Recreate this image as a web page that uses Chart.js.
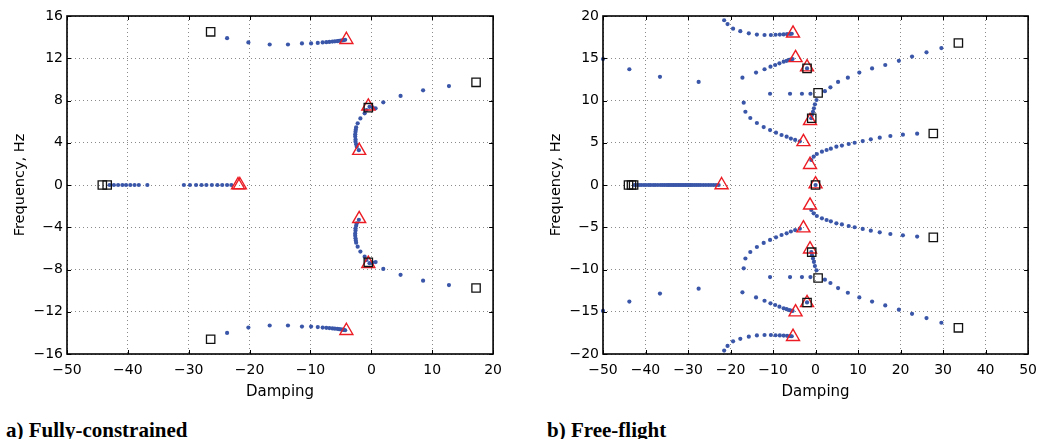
<!DOCTYPE html>
<html lang="en">
<head>
  <meta charset="UTF-8" />
  <title>Root locus - Damping vs Frequency</title>
  <script src="https://cdn.jsdelivr.net/npm/chart.js@4.4.0/dist/chart.umd.min.js"></script>
  <style>
    body { margin: 0; background: #fff; width: 1045px; height: 439px; position: relative; overflow: hidden; }
    canvas { position: absolute; top: 0; }
    .caption {
      position: absolute; top: 418px; line-height: 21px;
      font: bold 21px "Liberation Serif", "Times New Roman", serif; color: #000;
    }
  </style>
</head>
<body>

  <canvas id="chartA" width="510" height="410" style="left:0"></canvas>
  <canvas id="chartB" width="509" height="410" style="left:536px"></canvas>
  <div class="caption" style="left:6px">a) Fully-constrained</div>
  <div class="caption" style="left:547px">b) Free-flight</div>

  <script>
    // ---- a) Fully-constrained ----
    // branch points: top locus, then right-hand locus (upper half), lower half mirrors them
    const aBranchDamp = [
      -23.7, -20.2, -16.7, -13.7, -11.4, -9.9, -8.8, -8.0, -7.4, -6.9, -6.4, -6.0, -5.6, -5.3, -5.0, -4.7, -4.5, -4.3,
      12.75, 8.5, 4.8, 1.96, 0.7, 0.2, -0.3, -0.8, -1.1, -1.8, -2.25, -2.5, -2.55, -2.6, -2.65, -2.65, -2.6, -2.6, -2.5, -2.4, -2.05
    ];
    const aFreqUp = [
      13.9, 13.5, 13.3, 13.3, 13.4, 13.4, 13.45, 13.5, 13.52, 13.55, 13.58, 13.6, 13.62, 13.65, 13.67, 13.7, 13.72, 13.75,
      9.37, 8.96, 8.43, 7.83, 7.26, 7.35, 7.4, 7.1, 6.79, 6.3, 5.84, 5.46, 5.25, 5.05, 4.8, 4.58, 4.3, 4.1, 3.85, 3.63, 3.3
    ];
    const aFreqDown = [
      -14.0, -13.5, -13.3, -13.3, -13.4, -13.4, -13.45, -13.5, -13.52, -13.55, -13.58, -13.6, -13.62, -13.65, -13.67, -13.7, -13.72, -13.75,
      -9.47, -9.06, -8.5, -7.95, -7.3, -7.35, -7.4, -7.1, -6.79, -6.3, -5.84, -5.46, -5.25, -5.05, -4.8, -4.58, -4.3, -4.1, -3.85, -3.63, -3.3
    ];
    // real-axis points (frequency 0)
    const aAxisDamp = [
      -43.0, -42.3, -41.6, -40.9, -40.3, -39.6, -38.9, -38.2, -36.8,
      -30.8, -29.8, -28.8, -27.9, -27.1, -26.2, -25.3, -24.5, -23.7, -23.0
    ];
    const aTriDamp = [-4.1, -4.1, -21.9, -21.6, -0.5, -0.5, -2.0, -2.0];
    const aTriFreq = [13.75, -13.8, 0, 0, 7.45, -7.45, 3.25, -3.2];
    const aSqDamp = [-26.4, -26.4, 17.2, 17.2, -0.5, -0.5, -44.2, -43.4];
    const aSqFreq = [14.5, -14.6, 9.72, -9.75, 7.32, -7.32, 0, 0];
    const aXTicks = [-50, 20, 10];
    const aYTicks = [-16, 16, 4];

    // ---- b) Free-flight ----
    const bBranchDamp = [
      -50, -43.8, -36.6, -27.5,
      -17.2, -14.0, -12.0, -10.6, -9.5, -8.5, -7.5, -6.8, -6.2, -5.8, -5.4,
      -21.5, -20.7, -19.4, -17.7, -15.7, -13.8, -12.0, -10.5, -9.4, -8.4, -7.5, -6.7, -6.0, -5.6,
      -16.9, -16.5, -15.35, -13.8, -12.2, -10.7, -9.3, -8.0, -6.8, -5.8, -4.8, -3.7,
      -10.7, -6.0, -3.2, -1.2,
      2.2, 3.5, 5.3, 7.6, 10.3, 13.3, 16.4, 19.6, 22.7, 26.1, 29.6,
      0.23, -0.15, -0.38, -0.6, -0.84, -1.0,
      -2.0,
      -1.0, -0.45, 0.3, 1.5, 2.6, 3.6, 4.9, 6.2, 7.8, 9.2, 11.1, 13.0, 15.1, 17.6, 20.55, 23.9
    ];
    const bFreqUp = [
      14.9, 13.7, 12.8, 12.2,
      12.7, 13.3, 13.7, 14.0, 14.2, 14.4, 14.6, 14.7, 14.8, 14.85, 14.9,
      19.5, 19.05, 18.5, 18.2, 17.95, 17.8, 17.75, 17.75, 17.78, 17.8, 17.82, 17.85, 17.88, 17.9,
      9.74, 8.67, 7.93, 7.34, 6.86, 6.5, 6.19, 5.92, 5.72, 5.5, 5.33, 5.17,
      10.8, 10.8, 10.8, 10.8,
      11.1, 11.56, 12.2, 12.7, 13.3, 13.8, 14.2, 14.7, 15.2, 15.7, 16.2,
      10.06, 9.55, 9.07, 8.67, 8.28, 7.9,
      13.8,
      2.96, 3.35, 3.67, 3.94, 4.14, 4.3, 4.53, 4.66, 4.85, 5.0, 5.2, 5.4, 5.6, 5.8, 5.95, 6.07
    ];
    const bFreqDown = [
      -14.9, -13.8, -12.85, -12.27,
      -12.7, -13.3, -13.7, -14.0, -14.2, -14.4, -14.6, -14.7, -14.8, -14.85, -14.9,
      -19.6, -19.05, -18.5, -18.2, -17.95, -17.8, -17.75, -17.75, -17.78, -17.8, -17.82, -17.85, -17.88, -17.9,
      -9.86, -8.7, -7.93, -7.34, -6.86, -6.5, -6.19, -5.92, -5.72, -5.5, -5.33, -5.17,
      -10.9, -10.9, -10.9, -10.9,
      -11.2, -11.6, -12.2, -12.75, -13.3, -13.8, -14.25, -14.75, -15.25, -15.75, -16.3,
      -10.1, -9.6, -9.1, -8.7, -8.3, -7.95,
      -13.9,
      -2.96, -3.35, -3.67, -3.94, -4.14, -4.3, -4.53, -4.66, -4.85, -5.0, -5.2, -5.4, -5.6, -5.8, -5.95, -6.1
    ];
    const bAxisDamp = [
      -42.6, -42.0, -41.5, -41.0, -40.4, -39.9, -39.3, -38.8, -38.2, -37.7, -37.1, -36.5, -36.0, -35.5,
      -35.0, -34.6, -34.2, -33.8, -33.4, -33.0, -32.6, -32.2, -31.8, -31.4, -31.0, -30.6, -30.2, -29.8,
      -29.4, -29.0, -28.5, -28.0, -27.5, -27.0, -26.4, -25.8, -25.2, -24.6, -24.0, -23.4, -22.8, 0
    ];
    const bTriDamp = [-22.1, -5.3, -4.7, -2.85, -2.0, -1.3, -1.3, 0, -5.3, -4.7, -2.85, -2.0, -1.3, -1.3];
    const bTriFreq = [0, 17.95, 15.05, 5.1, 13.95, 7.6, 2.4, 0.1, -17.95, -15.05, -5.1, -13.95, -7.6, -2.4];
    const bSqDamp = [-44.0, -43.3, -42.8, -2.0, 0.6, -0.9, 0, 27.7, 33.6, -2.0, 0.6, -0.9, 27.7, 33.6];
    const bSqFreq = [0, 0, 0, 13.8, 10.9, 7.9, 0, 6.1, 16.8, -13.9, -11.0, -7.95, -6.2, -16.9];
    const bXTicks = [-50, 50, 10];
    const bYTicks = [-20, 20, 5];

    const zip = (xs, ys) => xs.map((x, i) => ({ x: x, y: ys[i] }));
    const minus = v => String(v).replace('-', '\u2212');

    // MATLAB-style box with inward ticks
    const matlabFrame = {
      id: 'matlabFrame',
      afterDraw(chart) {
        const { ctx, chartArea: a, scales: { x, y } } = chart;
        ctx.save();
        ctx.strokeStyle = '#000';
        ctx.lineWidth = 1;
        ctx.beginPath();
        x.ticks.forEach(t => {
          const px = Math.round(x.getPixelForValue(t.value)) + 0.5;
          ctx.moveTo(px, a.bottom); ctx.lineTo(px, a.bottom - 4);
          ctx.moveTo(px, a.top); ctx.lineTo(px, a.top + 4);
        });
        y.ticks.forEach(t => {
          const py = Math.round(y.getPixelForValue(t.value)) + 0.5;
          ctx.moveTo(a.left, py); ctx.lineTo(a.left + 4, py);
          ctx.moveTo(a.right, py); ctx.lineTo(a.right - 4, py);
        });
        ctx.stroke();
        ctx.lineWidth = 1.6;
        ctx.strokeRect(a.left, a.top, a.right - a.left, a.bottom - a.top);
        ctx.restore();
      }
    };

    function drawLocus(id, branchDamp, freqUp, freqDown, axisDamp, triDamp, triFreq, sqDamp, sqFreq, xT, yT, rightPad) {
      const dots = zip(branchDamp, freqUp)
        .concat(zip(branchDamp, freqDown))
        .concat(axisDamp.map(x => ({ x: x, y: 0 })));
      new Chart(document.getElementById(id), {
        type: 'scatter',
        data: {
          datasets: [
            { data: zip(sqDamp, sqFreq), pointStyle: 'rect', pointRadius: 5.9, clip: false,
              backgroundColor: 'rgba(0,0,0,0)', borderColor: '#111', borderWidth: 1.3 },
            { data: zip(triDamp, triFreq), pointStyle: 'triangle', pointRadius: 7.5, clip: false,
              backgroundColor: 'rgba(0,0,0,0)', borderColor: '#ec1c24', borderWidth: 1.4 },
            { data: dots, pointStyle: 'circle', pointRadius: 2.1, clip: false,
              backgroundColor: '#3a56a8', borderWidth: 0 }
          ]
        },
        options: {
          responsive: false,
          animation: false,
          layout: { padding: { top: 16, right: rightPad, left: 0, bottom: 0 } },
          plugins: { legend: { display: false }, tooltip: { enabled: false } },
          scales: {
            x: {
              type: 'linear', min: xT[0], max: xT[1],
              afterFit: s => { s.height = 56; },
              ticks: { stepSize: xT[2], padding: 8, color: '#000',
                       font: { family: 'DejaVu Sans', size: 14 }, callback: minus },
              grid: { color: '#8a8a8a', lineWidth: 1, drawTicks: false },
              border: { display: false, dash: [1, 3] },
              title: { display: true, text: 'Damping', color: '#000', padding: { top: 0, bottom: 9 },
                       font: { family: 'DejaVu Sans', size: 15 } }
            },
            y: {
              type: 'linear', min: yT[0], max: yT[1],
              afterFit: s => { s.width = 67; },
              ticks: { stepSize: yT[2], padding: 4, color: '#000',
                       font: { family: 'DejaVu Sans', size: 14 }, callback: minus },
              grid: { color: '#8a8a8a', lineWidth: 1, drawTicks: false },
              border: { display: false, dash: [1, 3] },
              title: { display: true, text: 'Frequency, Hz', color: '#000', padding: { top: 12, bottom: 0 },
                       font: { family: 'DejaVu Sans', size: 14.5 } }
            }
          }
        },
        plugins: [matlabFrame]
      });
    }

    drawLocus('chartA', aBranchDamp, aFreqUp, aFreqDown, aAxisDamp, aTriDamp, aTriFreq, aSqDamp, aSqFreq, aXTicks, aYTicks, 14);
    drawLocus('chartB', bBranchDamp, bFreqUp, bFreqDown, bAxisDamp, bTriDamp, bTriFreq, bSqDamp, bSqFreq, bXTicks, bYTicks, 12);
  </script>
</body>
</html>
